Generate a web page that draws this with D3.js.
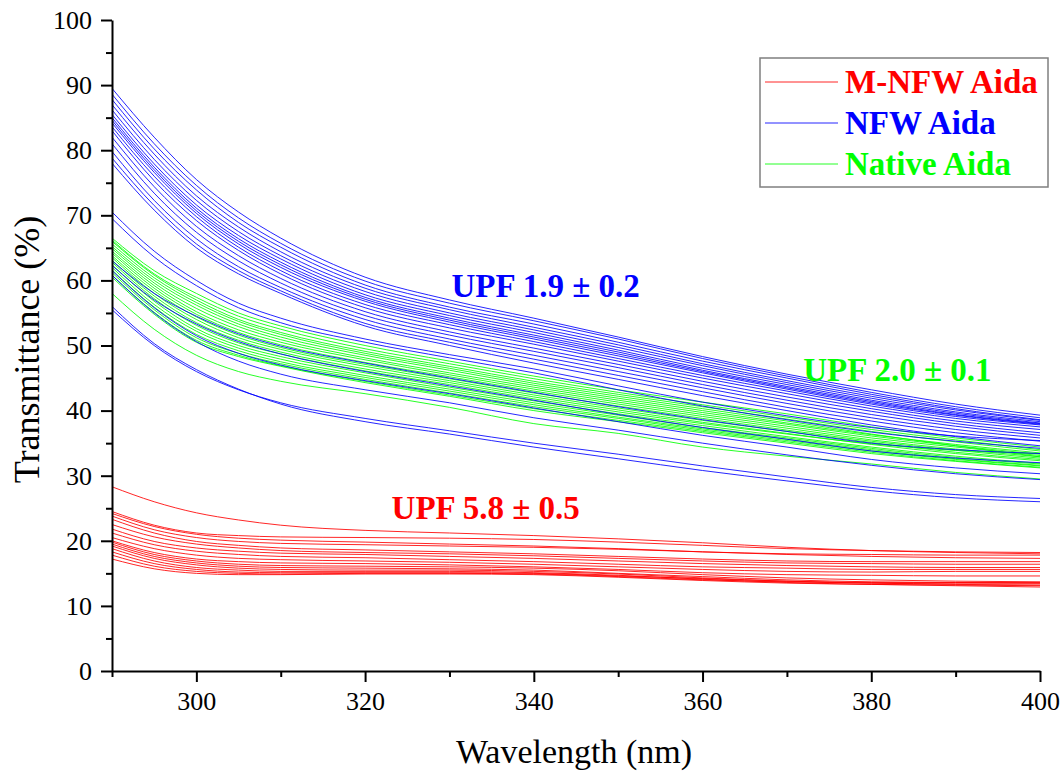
<!DOCTYPE html>
<html>
<head>
<meta charset="utf-8">
<script src="https://cdn.jsdelivr.net/npm/d3@7"></script>
<style>
  html, body { margin: 0; padding: 0; background: #fff; }
  svg { display: block; }
</style>
</head>
<body>
<svg id="chart" width="1063" height="772"></svg>
<script>
// Wavelengths (nm) at which each spectrum is sampled
const wavelengths = [290, 295, 300, 305, 310, 320, 330, 340, 350, 360, 370, 380, 390, 400];

// M-NFW Aida transmittance spectra (%)
const mnfwSpectra = [
  [28.3, 26.0, 24.3, 23.2, 22.4, 21.6, 21.2, 20.8, 20.3, 19.7, 19.0, 18.5, 18.2, 18.0],
  [24.5, 22.4, 21.2, 20.8, 20.6, 20.5, 20.4, 20.2, 19.8, 19.3, 18.8, 18.5, 18.3, 18.2],
  [24.2, 22.2, 21.0, 20.4, 20.1, 19.8, 19.5, 19.2, 18.8, 18.3, 17.9, 17.6, 17.4, 17.3],
  [23.8, 21.7, 20.5, 19.9, 19.6, 19.4, 19.2, 19.0, 18.7, 18.3, 18.0, 17.9, 17.8, 17.8],
  [23.3, 21.2, 19.9, 19.3, 18.9, 18.6, 18.3, 18.0, 17.6, 17.2, 16.9, 16.8, 16.8, 16.8],
  [22.5, 20.6, 19.5, 18.9, 18.5, 18.2, 18.0, 17.7, 17.3, 16.9, 16.6, 16.5, 16.4, 16.4],
  [21.8, 19.9, 18.9, 18.4, 18.1, 17.9, 17.6, 17.3, 16.9, 16.5, 16.2, 16.0, 15.9, 15.9],
  [21.2, 19.4, 18.4, 17.9, 17.6, 17.4, 17.1, 16.8, 16.4, 16.0, 15.8, 15.6, 15.6, 15.6],
  [20.5, 18.8, 17.8, 17.3, 17.1, 16.9, 16.7, 16.4, 16.0, 15.6, 15.3, 15.2, 15.3, 15.3],
  [20.0, 18.2, 17.2, 16.8, 16.6, 16.5, 16.3, 16.0, 15.6, 15.1, 14.8, 14.7, 14.6, 14.6],
  [19.8, 17.9, 16.9, 16.4, 16.2, 16.1, 16.0, 15.8, 15.4, 14.8, 14.3, 14.0, 13.8, 13.7],
  [19.5, 17.6, 16.6, 16.1, 15.9, 15.8, 15.7, 15.5, 15.0, 14.5, 14.0, 13.7, 13.6, 13.5],
  [19.2, 17.3, 16.3, 15.8, 15.6, 15.5, 15.5, 15.3, 14.9, 14.3, 13.8, 13.5, 13.3, 13.2],
  [18.8, 16.9, 15.9, 15.5, 15.3, 15.3, 15.3, 15.1, 14.7, 14.1, 13.6, 13.3, 13.1, 12.9],
  [18.3, 16.5, 15.6, 15.2, 15.1, 15.1, 15.1, 15.0, 14.6, 14.2, 13.8, 13.6, 13.6, 13.6],
  [17.8, 16.1, 15.3, 15.0, 14.9, 15.0, 15.0, 14.9, 14.5, 14.0, 13.7, 13.5, 13.4, 13.4],
  [17.2, 15.7, 15.0, 14.8, 14.8, 14.9, 14.9, 14.8, 14.4, 13.9, 13.5, 13.3, 13.2, 13.1]
];

// NFW Aida transmittance spectra (%)
const nfwSpectra = [
  [89.5, 82.0, 75.5, 70.5, 66.5, 60.5, 57.0, 54.2, 51.3, 48.3, 45.6, 43.2, 41.0, 39.3],
  [88.6, 81.0, 74.6, 69.6, 65.7, 59.9, 56.5, 53.8, 51.0, 48.0, 45.3, 42.8, 40.6, 38.9],
  [87.8, 80.2, 73.9, 68.9, 65.1, 59.3, 55.9, 53.3, 50.5, 47.6, 45.0, 42.5, 40.3, 38.6],
  [87.0, 79.4, 73.0, 68.2, 64.4, 58.8, 55.5, 52.8, 50.1, 47.2, 44.6, 42.2, 40.1, 38.5],
  [86.2, 78.6, 72.3, 67.5, 63.8, 58.3, 55.0, 52.4, 49.7, 46.9, 44.3, 41.9, 39.8, 38.3],
  [85.5, 77.9, 71.6, 66.9, 63.3, 57.8, 54.6, 52.0, 49.3, 46.5, 44.0, 41.6, 39.6, 38.1],
  [85.0, 77.4, 71.1, 66.4, 62.8, 57.4, 54.2, 51.6, 49.0, 46.2, 43.7, 41.4, 39.4, 38.0],
  [84.6, 77.0, 70.7, 66.0, 62.4, 57.1, 53.9, 51.3, 48.7, 46.0, 43.5, 41.2, 39.3, 37.9],
  [84.2, 76.6, 70.3, 65.6, 62.0, 56.8, 53.6, 51.0, 48.4, 45.8, 43.3, 41.0, 39.1, 37.8],
  [83.6, 76.0, 69.8, 65.1, 61.5, 56.3, 53.2, 50.6, 48.0, 45.4, 43.0, 40.7, 38.8, 37.5],
  [83.0, 75.3, 69.2, 64.6, 61.0, 55.8, 52.7, 50.2, 47.6, 45.0, 42.6, 40.3, 38.4, 37.1],
  [82.0, 74.4, 68.3, 63.8, 60.3, 55.2, 52.1, 49.6, 47.1, 44.5, 42.1, 39.9, 38.0, 36.6],
  [81.0, 73.4, 67.4, 63.0, 59.6, 54.6, 51.6, 49.1, 46.6, 44.0, 41.6, 39.4, 37.6, 36.2],
  [79.8, 72.3, 66.4, 62.1, 58.9, 54.0, 51.0, 48.5, 46.0, 43.5, 41.1, 38.9, 37.1, 35.8],
  [78.8, 71.5, 65.6, 61.5, 58.4, 53.4, 50.5, 47.9, 45.4, 42.9, 40.5, 38.4, 36.6, 35.3],
  [78.0, 70.8, 65.0, 61.0, 58.0, 53.0, 50.0, 47.3, 44.8, 42.3, 40.0, 37.8, 36.0, 34.6],
  [70.5, 64.5, 60.0, 56.5, 54.2, 51.0, 48.6, 46.4, 43.8, 41.3, 39.2, 37.4, 36.1, 35.4],
  [69.5, 63.6, 59.2, 55.8, 53.5, 50.5, 48.1, 45.8, 43.2, 40.7, 38.6, 36.7, 35.3, 34.2],
  [63.0, 58.0, 54.5, 51.8, 49.9, 47.3, 45.0, 42.8, 40.6, 38.6, 36.8, 35.0, 34.0, 33.4],
  [62.3, 57.0, 53.3, 50.6, 48.7, 46.0, 43.8, 41.6, 39.4, 37.4, 35.6, 33.8, 32.7, 32.0],
  [61.5, 55.8, 51.5, 48.8, 47.0, 44.6, 42.6, 40.4, 38.3, 36.2, 34.4, 32.5, 31.2, 30.3],
  [60.8, 55.0, 50.6, 47.6, 45.6, 43.2, 41.2, 38.9, 37.0, 35.0, 33.2, 31.6, 30.3, 29.4],
  [55.5, 50.0, 46.0, 43.2, 41.2, 38.8, 36.9, 35.0, 33.3, 31.5, 29.8, 28.2, 27.1, 26.5],
  [56.0, 50.3, 46.3, 43.3, 41.0, 38.3, 36.4, 34.4, 32.6, 30.8, 29.2, 27.7, 26.6, 26.0]
];

// Native Aida transmittance spectra (%)
const nativeSpectra = [
  [66.5, 61.5, 58.0, 55.0, 53.0, 50.0, 47.6, 45.3, 43.2, 41.3, 39.5, 37.5, 35.8, 34.4],
  [66.2, 61.0, 57.4, 54.5, 52.5, 49.5, 47.2, 44.9, 42.8, 40.9, 39.0, 37.1, 35.5, 34.0],
  [66.0, 60.8, 57.0, 54.0, 52.0, 49.1, 46.8, 44.5, 42.5, 40.6, 38.7, 36.8, 35.2, 33.8],
  [65.6, 60.4, 56.6, 53.7, 51.7, 48.8, 46.5, 44.2, 42.2, 40.3, 38.4, 36.4, 34.6, 32.9],
  [65.2, 60.0, 56.2, 53.3, 51.3, 48.5, 46.2, 43.9, 41.9, 40.0, 38.1, 36.3, 34.8, 33.5],
  [64.9, 59.6, 55.7, 52.9, 50.9, 48.1, 45.8, 43.6, 41.6, 39.7, 37.9, 36.1, 34.6, 33.3],
  [64.5, 59.2, 55.2, 52.4, 50.5, 47.8, 45.5, 43.3, 41.3, 39.4, 37.6, 35.8, 34.4, 33.1],
  [64.2, 58.8, 54.8, 52.0, 50.1, 47.4, 45.2, 43.0, 41.0, 39.1, 37.3, 35.5, 34.1, 32.9],
  [63.8, 58.4, 54.4, 51.6, 49.7, 47.1, 44.9, 42.7, 40.7, 38.8, 37.0, 35.3, 33.9, 32.7],
  [63.5, 58.0, 54.0, 51.2, 49.4, 46.8, 44.6, 42.4, 40.4, 38.5, 36.8, 35.1, 33.6, 32.5],
  [63.1, 57.6, 53.5, 50.8, 49.0, 46.4, 44.3, 42.1, 40.1, 38.2, 36.5, 34.8, 33.4, 32.3],
  [62.8, 57.2, 53.1, 50.4, 48.7, 46.1, 44.0, 41.8, 39.8, 38.0, 36.4, 34.9, 33.9, 33.4],
  [62.4, 56.8, 52.6, 50.0, 48.3, 45.8, 43.6, 41.5, 39.5, 37.7, 36.0, 34.4, 33.0, 31.9],
  [62.0, 56.3, 52.2, 49.6, 47.9, 45.4, 43.3, 41.2, 39.3, 37.4, 35.8, 34.2, 32.8, 31.8],
  [61.6, 55.9, 51.7, 49.2, 47.5, 45.1, 43.0, 40.9, 39.0, 37.2, 35.6, 34.0, 32.6, 31.6],
  [61.2, 55.5, 51.2, 48.8, 47.2, 44.8, 42.7, 40.6, 38.8, 37.0, 35.4, 33.8, 32.5, 31.5],
  [60.8, 55.1, 50.8, 48.5, 46.9, 44.5, 42.4, 40.3, 38.5, 36.8, 35.2, 33.6, 32.3, 31.3],
  [60.5, 54.8, 50.5, 48.3, 46.8, 44.3, 42.2, 40.0, 38.3, 36.6, 35.0, 33.4, 32.2, 31.2],
  [58.0, 52.5, 48.5, 46.0, 44.5, 42.6, 40.5, 38.0, 36.5, 34.4, 33.0, 31.8, 30.5, 29.5]
];

// Series names, colours and UPF annotations
const seriesNames = ["M-NFW Aida", "NFW Aida", "Native Aida"];
const seriesColors = ["#ff0000", "#0000ff", "#00ff00"];
const upfLabels = ["UPF 5.8 \u00b1 0.5", "UPF 1.9 \u00b1 0.2", "UPF 2.0 \u00b1 0.1"];
const upfAnchors = [[334.3, 23.3], [341.4, 57.4], [383.1, 44.6]]; // [wavelength, % at baseline]

// Axis tick values
const xMajorTicks = [300, 320, 340, 360, 380, 400];
const xMinorTicks = [290, 310, 330, 350, 370, 390];
const yMajorTicks = [0, 10, 20, 30, 40, 50, 60, 70, 80, 90, 100];
const yMinorTicks = [5, 15, 25, 35, 45, 55, 65, 75, 85, 95];

const svg = d3.select("#chart");
const margin = { left: 112, right: 23, top: 20, bottom: 101 };
const W = 1063, H = 772;

const x = d3.scaleLinear().domain([290, 400]).range([margin.left, W - margin.right]);
const y = d3.scaleLinear().domain([0, 100]).range([H - margin.bottom, margin.top]);

const font = '"Liberation Serif", "Times New Roman", Tinos';

svg.append("defs").append("clipPath").attr("id", "plot-clip")
  .append("rect")
  .attr("x", margin.left).attr("y", margin.top)
  .attr("width", W - margin.left - margin.right)
  .attr("height", H - margin.top - margin.bottom);

const line = d3.line()
  .x((d, i) => x(wavelengths[i]))
  .y(d => y(d))
  .curve(d3.curveMonotoneX);

// Spectra: green drawn first, then blue, then red
const layers = [
  { data: nativeSpectra, color: seriesColors[2] },
  { data: nfwSpectra, color: seriesColors[1] },
  { data: mnfwSpectra, color: seriesColors[0] }
];
const plot = svg.append("g").attr("clip-path", "url(#plot-clip)");
layers.forEach(layer => {
  plot.append("g")
    .selectAll("path")
    .data(layer.data)
    .join("path")
    .attr("d", line)
    .attr("fill", "none")
    .attr("stroke", layer.color)
    .attr("stroke-width", 1)
    .attr("stroke-opacity", 0.85);
});

// Axes
const axisColor = "#000";
const xAxis = svg.append("g").attr("transform", `translate(0,${y(0)})`);
xAxis.call(d3.axisBottom(x).tickValues(xMajorTicks).tickSize(11).tickSizeOuter(0).tickPadding(10));
xAxis.append("g").call(d3.axisBottom(x).tickValues(xMinorTicks).tickSize(6).tickFormat("").tickSizeOuter(0))
  .select(".domain").remove();

const yAxis = svg.append("g").attr("transform", `translate(${x(290)},0)`);
yAxis.call(d3.axisLeft(y).tickValues(yMajorTicks).tickSize(11).tickSizeOuter(0).tickPadding(9));
yAxis.append("g").call(d3.axisLeft(y).tickValues(yMinorTicks).tickSize(6).tickFormat("").tickSizeOuter(0))
  .select(".domain").remove();

[xAxis, yAxis].forEach(a => {
  a.attr("font-family", null);
  a.selectAll(".domain").attr("stroke", axisColor).attr("stroke-width", 2);
  a.selectAll(".tick line").attr("stroke", axisColor).attr("stroke-width", 2);
  a.selectAll(".tick text")
    .attr("fill", "#000")
    .style("font-family", font)
    .style("font-size", "26px");
});

// Axis titles
svg.append("text")
  .attr("x", (x(290) + x(400)) / 2 - 2)
  .attr("y", 763)
  .attr("text-anchor", "middle")
  .style("font-family", font)
  .style("font-size", "34px")
  .attr("fill", "#000")
  .text("Wavelength (nm)");

svg.append("text")
  .attr("transform", `translate(39,${(y(0) + y(100)) / 2 + 4}) rotate(-90)`)
  .attr("text-anchor", "middle")
  .style("font-family", font)
  .style("font-size", "36px")
  .attr("fill", "#000")
  .text("Transmittance (%)");

// UPF annotations
svg.append("g")
  .selectAll("text")
  .data(upfLabels)
  .join("text")
  .attr("x", (d, i) => x(upfAnchors[i][0]))
  .attr("y", (d, i) => y(upfAnchors[i][1]))
  .attr("text-anchor", "middle")
  .attr("fill", (d, i) => seriesColors[i])
  .style("font-family", font)
  .style("font-weight", "bold")
  .style("font-size", "33px")
  .text(d => d);

// Legend
const legend = svg.append("g").attr("transform", "translate(760,58)");
legend.append("rect")
  .attr("width", 288).attr("height", 129)
  .attr("fill", "#fff")
  .attr("stroke", "#7f7f7f")
  .attr("stroke-width", 1.5);
const legendOrder = [0, 1, 2];
const items = legend.selectAll("g.item")
  .data(legendOrder)
  .join("g")
  .attr("class", "item")
  .attr("transform", (d, i) => `translate(0,${24 + i * 41})`);
items.append("line")
  .attr("x1", 5).attr("x2", 78)
  .attr("stroke", d => seriesColors[d])
  .attr("stroke-width", 1)
  .attr("stroke-opacity", 0.85);
items.append("text")
  .attr("x", 85).attr("y", 11)
  .attr("fill", d => seriesColors[d])
  .style("font-family", font)
  .style("font-weight", "bold")
  .style("font-size", "33px")
  .text(d => seriesNames[d]);
</script>
</body>
</html>
